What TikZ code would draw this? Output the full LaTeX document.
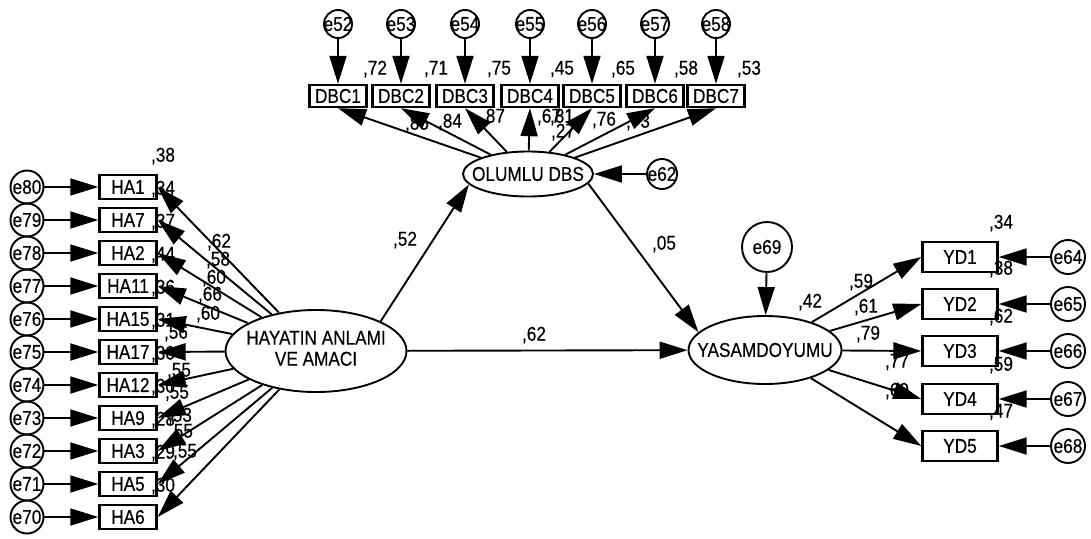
\documentclass[tikz,border=0pt]{standalone}
\usepackage{fontspec}
\setmainfont{Liberation Sans}[FakeStretch=0.86, FakeBold=0.3]
\usetikzlibrary{positioning,arrows.meta,shapes.geometric}
\newcommand{\zw}[1]{\makebox[0pt]{#1}}

\begin{document}
\begin{tikzpicture}[x=1pt, y=-1pt,
  font=\fontsize{20}{21}\selectfont,
  obs/.style={draw, line width=2.4pt, minimum width=57pt, minimum height=24pt, inner sep=0pt},
  err/.style={draw, circle, line width=1.9pt, minimum size=33pt, inner sep=0pt},
  lat/.style={draw, ellipse, line width=1.9pt, inner sep=0pt},
  est/.style={inner sep=0pt},
  arr/.style={-{Triangle[length=28pt, width=17pt]}, line width=1.9pt}
]
  \useasboundingbox (0,0) rectangle (1091,538);

  % latent variables
  \node[lat, minimum width=181pt, minimum height=82pt] (hay) at (316,351)
    {\zw{\begin{tabular}{@{}c@{}}HAYATIN ANLAMI\\VE AMACI\end{tabular}}};
  \node[lat, minimum width=130pt, minimum height=45pt] (olumlu) at (528,174) {\zw{OLUMLU DBS}};
  \node[lat, minimum width=153pt, minimum height=68pt] (yasam) at (765,350) {\zw{YASAMDOYUMU}};
  \node[err, minimum size=30pt] (e62) at (662,174) {\zw{e62}};
  \node[err, minimum size=50pt] (e69) at (767,247) {e69};

  % left items
  \node[obs] (ha1) at (128,187) {HA1};
  \node[obs] (ha7) at (128,220) {HA7};
  \node[obs] (ha2) at (128,253) {HA2};
  \node[obs] (ha11) at (128,286) {HA11};
  \node[obs] (ha15) at (128,319) {HA15};
  \node[obs] (ha17) at (128,352) {HA17};
  \node[obs] (ha12) at (128,385) {HA12};
  \node[obs] (ha9) at (128,418) {HA9};
  \node[obs] (ha3) at (128,451) {HA3};
  \node[obs] (ha5) at (128,484) {HA5};
  \node[obs] (ha6) at (128,517) {HA6};
  \node[err] (e80) at (27,187) {\zw{e80}};
  \node[err] (e79) at (27,220) {\zw{e79}};
  \node[err] (e78) at (27,253) {\zw{e78}};
  \node[err] (e77) at (27,286) {\zw{e77}};
  \node[err] (e76) at (27,319) {\zw{e76}};
  \node[err] (e75) at (27,352) {\zw{e75}};
  \node[err] (e74) at (27,385) {\zw{e74}};
  \node[err] (e73) at (27,418) {\zw{e73}};
  \node[err] (e72) at (27,451) {\zw{e72}};
  \node[err] (e71) at (27,484) {\zw{e71}};
  \node[err] (e70) at (27,517) {\zw{e70}};

  % top items
  \node[obs, minimum height=22pt] (dbc1) at (338,96) {DBC1};
  \node[obs, minimum height=22pt] (dbc2) at (401,96) {DBC2};
  \node[obs, minimum height=22pt] (dbc3) at (465,96) {DBC3};
  \node[obs, minimum height=22pt] (dbc4) at (530,96) {DBC4};
  \node[obs, minimum height=22pt] (dbc5) at (592,96) {DBC5};
  \node[obs, minimum height=22pt] (dbc6) at (655,96) {DBC6};
  \node[obs, minimum height=22pt] (dbc7) at (716,96) {DBC7};
  \node[err, minimum size=28pt] (e52) at (338,24) {\zw{e52}};
  \node[err, minimum size=28pt] (e53) at (401,24) {\zw{e53}};
  \node[err, minimum size=28pt] (e54) at (465,24) {\zw{e54}};
  \node[err, minimum size=28pt] (e55) at (530,24) {\zw{e55}};
  \node[err, minimum size=28pt] (e56) at (592,24) {\zw{e56}};
  \node[err, minimum size=28pt] (e57) at (655,24) {\zw{e57}};
  \node[err, minimum size=28pt] (e58) at (716,24) {\zw{e58}};

  % right items
  \node[obs, minimum width=75pt, minimum height=30pt] (yd1) at (960,257) {YD1};
  \node[obs, minimum width=75pt, minimum height=30pt] (yd2) at (960,304) {YD2};
  \node[obs, minimum width=75pt, minimum height=30pt] (yd3) at (960,351) {YD3};
  \node[obs, minimum width=75pt, minimum height=30pt] (yd4) at (960,399) {YD4};
  \node[obs, minimum width=75pt, minimum height=30pt] (yd5) at (960,446) {YD5};
  \node[err, minimum size=34pt] (e64) at (1068,257) {\zw{e64}};
  \node[err, minimum size=34pt] (e65) at (1068,304) {\zw{e65}};
  \node[err, minimum size=34pt] (e66) at (1068,351) {\zw{e66}};
  \node[err, minimum size=34pt] (e67) at (1068,399) {\zw{e67}};
  \node[err, minimum size=34pt] (e68) at (1068,446) {\zw{e68}};

  % estimates
  \node[est] (r2ha1) at (163,156) {,38};
  \node[est] (r2ha7) at (163,189) {,34};
  \node[est] (r2ha2) at (163,222) {,37};
  \node[est] (r2ha11) at (163,255) {,44};
  \node[est] (r2ha15) at (163,288) {,36};
  \node[est] (r2ha17) at (163,321) {,31};
  \node[est] (r2ha12) at (163,354) {,30};
  \node[est] (r2ha9) at (163,387) {,30};
  \node[est] (r2ha3) at (163,420) {,28};
  \node[est] (r2ha5) at (163,453) {,29};
  \node[est] (r2ha6) at (163,486) {,30};
  \node[est] (ldha1) at (219,242) {,62};
  \node[est] (ldha7) at (218,260) {,58};
  \node[est] (ldha2) at (214,278) {,60};
  \node[est] (ldha11) at (210,295) {,66};
  \node[est] (ldha15) at (208,314) {,60};
  \node[est] (ldha17) at (176,333) {,56};
  \node[est] (ldha12) at (179,371) {,55};
  \node[est] (ldha9) at (177,393) {,55};
  \node[est] (ldha3) at (180,416) {,53};
  \node[est] (ldha5) at (181,432) {,55};
  \node[est] (ldha6) at (185,452) {,55};

  \node[est] (r2dbc1) at (375,69) {,72};
  \node[est] (r2dbc2) at (436,69) {,71};
  \node[est] (r2dbc3) at (499,69) {,75};
  \node[est] (r2dbc4) at (562,69) {,45};
  \node[est] (r2dbc5) at (623,69) {,65};
  \node[est] (r2dbc6) at (686,69) {,58};
  \node[est] (r2dbc7) at (749,69) {,53};
  \node[est] (lddbc1) at (417,124) {,85};
  \node[est] (lddbc2) at (450,122) {,84};
  \node[est] (lddbc3) at (493,117) {,87};
  \node[est] (lddbc4) at (549,117) {,67};
  \node[est] (lddbc5) at (562,117) {,81};
  \node[est] (lddbc6) at (604,120) {,76};
  \node[est] (lddbc7) at (638,122) {,73};
  \node[est] (r2olumlu) at (563,132) {,27};

  \node[est] (pathho) at (405,240) {,52};
  \node[est] (pathhy) at (534,335) {,62};
  \node[est] (pathoy) at (664,244) {,05};
  \node[est] (r2yasam) at (810,302) {,42};

  \node[est] (ldyd1) at (861,282) {,59};
  \node[est] (ldyd2) at (866,307) {,61};
  \node[est] (ldyd3) at (868,334) {,79};
  \node[est] (ldyd4) at (897,362) {,77};
  \node[est] (ldyd5) at (897,391) {,69};
  \node[est] (r2yd1) at (1001,223) {,34};
  \node[est] (r2yd2) at (1001,269) {,38};
  \node[est] (r2yd3) at (1001,317) {,62};
  \node[est] (r2yd4) at (1001,365) {,59};
  \node[est] (r2yd5) at (1001,412) {,47};

  % paths
  \draw[arr] (e80) -- (ha1);
  \draw[arr] (e79) -- (ha7);
  \draw[arr] (e78) -- (ha2);
  \draw[arr] (e77) -- (ha11);
  \draw[arr] (e76) -- (ha15);
  \draw[arr] (e75) -- (ha17);
  \draw[arr] (e74) -- (ha12);
  \draw[arr] (e73) -- (ha9);
  \draw[arr] (e72) -- (ha3);
  \draw[arr] (e71) -- (ha5);
  \draw[arr] (e70) -- (ha6);
  \draw[arr] (hay) -- (ha1.east);
  \draw[arr] (hay) -- (ha7.east);
  \draw[arr] (hay) -- (ha2.east);
  \draw[arr] (hay) -- (ha11.east);
  \draw[arr] (hay) -- (ha15.east);
  \draw[arr] (hay) -- (ha17.east);
  \draw[arr] (hay) -- (ha12.east);
  \draw[arr] (hay) -- (ha9.east);
  \draw[arr] (hay) -- (ha3.east);
  \draw[arr] (hay) -- (ha5.east);
  \draw[arr] (hay) -- (ha6.east);

  \draw[arr] (e52) -- (dbc1);
  \draw[arr] (e53) -- (dbc2);
  \draw[arr] (e54) -- (dbc3);
  \draw[arr] (e55) -- (dbc4);
  \draw[arr] (e56) -- (dbc5);
  \draw[arr] (e57) -- (dbc6);
  \draw[arr] (e58) -- (dbc7);
  \draw[arr] (olumlu) -- (dbc1.south);
  \draw[arr] (olumlu) -- (dbc2.south);
  \draw[arr] (olumlu) -- (dbc3.south);
  \draw[arr] (olumlu) -- (dbc4.south);
  \draw[arr] (olumlu) -- (dbc5.south);
  \draw[arr] (olumlu) -- (dbc6.south);
  \draw[arr] (olumlu) -- (dbc7.south);
  \draw[arr] (e62) -- (olumlu);

  \draw[arr] (hay.north east) -- (olumlu.190);
  \draw[arr] (hay) -- (yasam);
  \draw[arr] (olumlu.-9) -- (yasam.165);
  \draw[arr] (e69) -- (yasam);

  \draw[arr] (yasam) -- (yd1.west);
  \draw[arr] (yasam) -- (yd2.west);
  \draw[arr] (yasam) -- (yd3.west);
  \draw[arr] (yasam) -- (yd4.west);
  \draw[arr] (yasam) -- (yd5.west);
  \draw[arr] (e64) -- (yd1);
  \draw[arr] (e65) -- (yd2);
  \draw[arr] (e66) -- (yd3);
  \draw[arr] (e67) -- (yd4);
  \draw[arr] (e68) -- (yd5);
\end{tikzpicture}
\end{document}
